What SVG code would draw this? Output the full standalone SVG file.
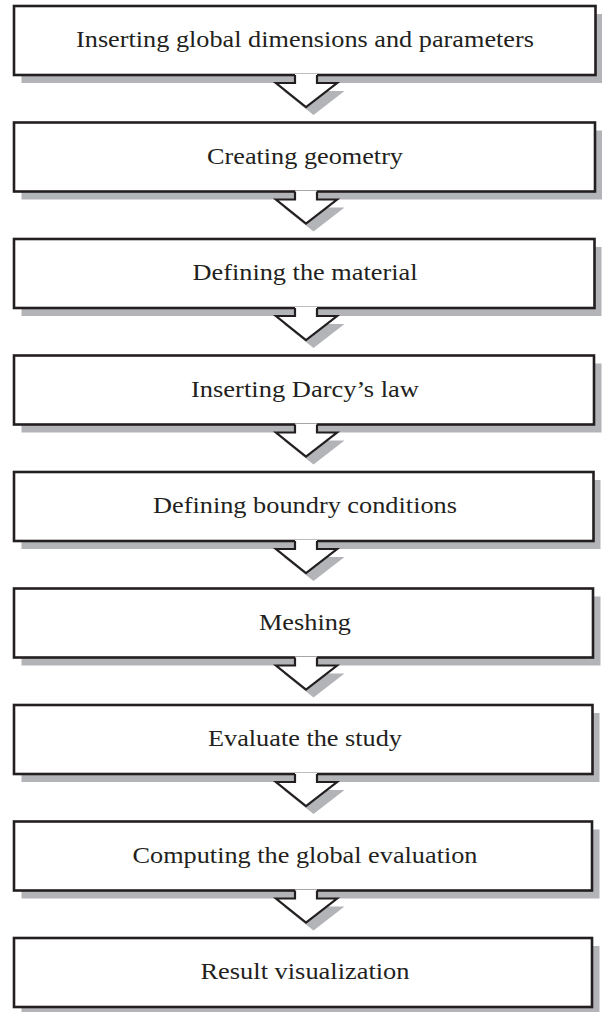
<svg xmlns="http://www.w3.org/2000/svg" width="602" height="1012" viewBox="0 0 602 1012">
  <style>
    .shadow { fill: #b3b4b7; stroke: none; }
    .box { fill: #ffffff; stroke: #231f20; stroke-width: 2.6; }
    .afill { fill: #ffffff; stroke: none; }
    .aline { fill: none; stroke: #231f20; stroke-width: 2.2; stroke-linejoin: miter; }
    .label { font-family: "Liberation Serif", "Times New Roman", serif; font-size: 23px; fill: #231f20; text-anchor: middle; }
  </style>
  <defs>
    <polygon id="ashape" points="295,-1 295,8 276,8 306,32 337,8 317,8 317,-1"/>
    <polyline id="aoutline" points="295,0 295,8 276,8 306,32 337,8 317,8 317,0"/>
  </defs>
  <rect width="602" height="1012" fill="#ffffff"/>

  <g id="node1">
    <rect class="shadow" x="21.5" y="14" width="581" height="69"/>
    <rect class="box" x="14" y="6" width="581.5" height="69"/>
    <text class="label" x="305" y="47" textLength="458" lengthAdjust="spacingAndGlyphs">Inserting global dimensions and parameters</text>
  </g>
  <g id="node2">
    <rect class="shadow" x="21.5" y="130.5" width="581" height="69"/>
    <rect class="box" x="14" y="122.5" width="581" height="69"/>
    <text class="label" x="305" y="163.5" textLength="196" lengthAdjust="spacingAndGlyphs">Creating geometry</text>
  </g>
  <g id="node3">
    <rect class="shadow" x="21.5" y="247" width="580" height="69"/>
    <rect class="box" x="14" y="239" width="580.5" height="69"/>
    <text class="label" x="305" y="280" textLength="225" lengthAdjust="spacingAndGlyphs">Defining the material</text>
  </g>
  <g id="node4">
    <rect class="shadow" x="21.5" y="363.5" width="580" height="69"/>
    <rect class="box" x="14" y="355.5" width="580" height="69"/>
    <text class="label" x="305" y="396.5" textLength="228" lengthAdjust="spacingAndGlyphs">Inserting Darcy’s law</text>
  </g>
  <g id="node5">
    <rect class="shadow" x="21.5" y="480" width="579" height="69"/>
    <rect class="box" x="14" y="472" width="579.5" height="69"/>
    <text class="label" x="305" y="513" textLength="304" lengthAdjust="spacingAndGlyphs">Defining boundry conditions</text>
  </g>
  <g id="node6">
    <rect class="shadow" x="21.5" y="596.5" width="579" height="69"/>
    <rect class="box" x="14" y="588.5" width="579" height="69"/>
    <text class="label" x="305" y="629.5" textLength="92" lengthAdjust="spacingAndGlyphs">Meshing</text>
  </g>
  <g id="node7">
    <rect class="shadow" x="21.5" y="713" width="578" height="69"/>
    <rect class="box" x="14" y="705" width="578.5" height="69"/>
    <text class="label" x="305" y="746" textLength="194" lengthAdjust="spacingAndGlyphs">Evaluate the study</text>
  </g>
  <g id="node8">
    <rect class="shadow" x="21.5" y="829.5" width="578" height="69"/>
    <rect class="box" x="14" y="821.5" width="578" height="69"/>
    <text class="label" x="305" y="862.5" textLength="345" lengthAdjust="spacingAndGlyphs">Computing the global evaluation</text>
  </g>
  <g id="node9">
    <rect class="shadow" x="21.5" y="946" width="578" height="69"/>
    <rect class="box" x="14" y="938" width="578" height="69"/>
    <text class="label" x="305" y="979" textLength="209" lengthAdjust="spacingAndGlyphs">Result visualization</text>
  </g>

  <g id="connectors">
    <g transform="translate(0,75)">
      <use href="#ashape" class="shadow" transform="translate(7.5,8)"/>
      <use href="#ashape" class="afill"/>
      <use href="#aoutline" class="aline"/>
    </g>
    <g transform="translate(0,191.5)">
      <use href="#ashape" class="shadow" transform="translate(7.5,8)"/>
      <use href="#ashape" class="afill"/>
      <use href="#aoutline" class="aline"/>
    </g>
    <g transform="translate(0,308)">
      <use href="#ashape" class="shadow" transform="translate(7.5,8)"/>
      <use href="#ashape" class="afill"/>
      <use href="#aoutline" class="aline"/>
    </g>
    <g transform="translate(0,424.5)">
      <use href="#ashape" class="shadow" transform="translate(7.5,8)"/>
      <use href="#ashape" class="afill"/>
      <use href="#aoutline" class="aline"/>
    </g>
    <g transform="translate(0,541)">
      <use href="#ashape" class="shadow" transform="translate(7.5,8)"/>
      <use href="#ashape" class="afill"/>
      <use href="#aoutline" class="aline"/>
    </g>
    <g transform="translate(0,657.5)">
      <use href="#ashape" class="shadow" transform="translate(7.5,8)"/>
      <use href="#ashape" class="afill"/>
      <use href="#aoutline" class="aline"/>
    </g>
    <g transform="translate(0,774)">
      <use href="#ashape" class="shadow" transform="translate(7.5,8)"/>
      <use href="#ashape" class="afill"/>
      <use href="#aoutline" class="aline"/>
    </g>
    <g transform="translate(0,890.5)">
      <use href="#ashape" class="shadow" transform="translate(7.5,8)"/>
      <use href="#ashape" class="afill"/>
      <use href="#aoutline" class="aline"/>
    </g>
  </g>
</svg>
